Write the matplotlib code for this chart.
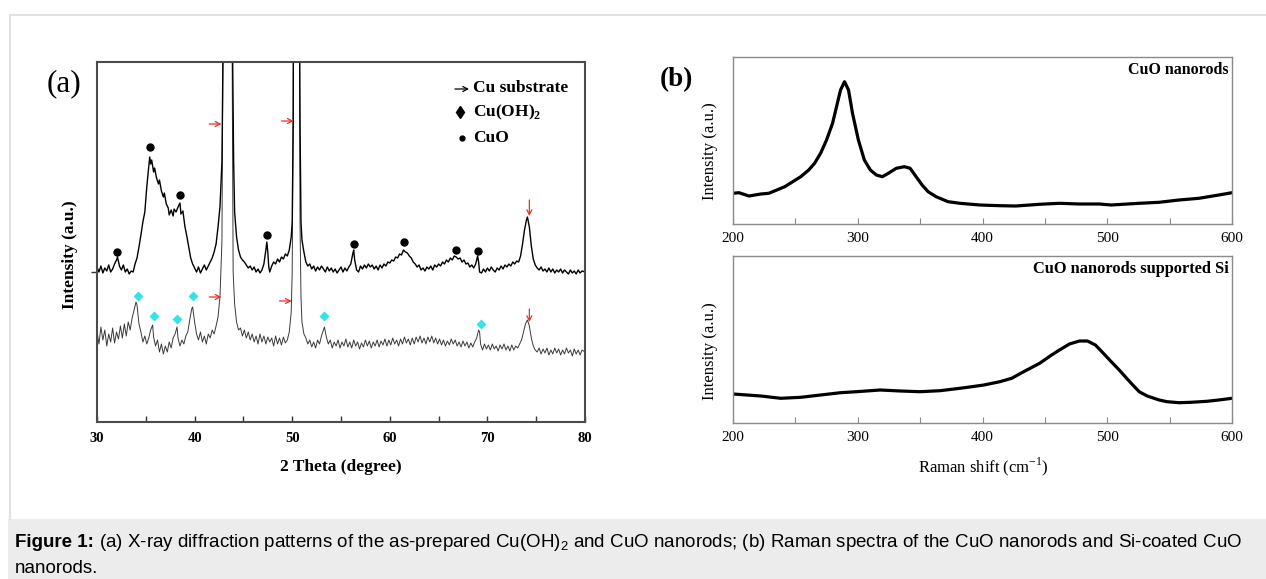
"""XRD patterns and Raman spectra of CuO nanorods (Figure 1)."""

import matplotlib
matplotlib.use('Agg')
import matplotlib.pyplot as plt
import numpy as np
from matplotlib.patches import Rectangle

plt.rcParams['font.family'] = ['Liberation Serif', 'DejaVu Serif']
plt.rcParams['mathtext.fontset'] = 'custom'
plt.rcParams['mathtext.rm'] = 'Liberation Serif'
plt.rcParams['mathtext.bf'] = 'Liberation Serif:bold'
plt.rcParams['mathtext.sf'] = 'Liberation Sans'

# ---- (a) XRD, 2theta (deg) / intensity (a.u.) ----
xrd_cuo = [
    (30.0, 155), (30.2, 150), (30.4, 156), (30.6, 149), (30.8, 154), (31.0, 151),
    (31.2, 157), (31.4, 150), (31.6, 153), (31.8, 158), (32.0, 162), (32.1, 165),
    (32.3, 156), (32.5, 152), (32.7, 157), (32.9, 150), (33.1, 153), (33.3, 148),
    (33.5, 151), (33.7, 150), (33.9, 158), (34.1, 164), (34.3, 175), (34.5, 187),
    (34.7, 200), (34.9, 210), (35.1, 235), (35.3, 255), (35.4, 265), (35.5, 258),
    (35.6, 262), (35.8, 250), (35.9, 254), (36.1, 244), (36.3, 238), (36.4, 242),
    (36.6, 231), (36.8, 225), (36.9, 229), (37.1, 218), (37.3, 214), (37.4, 207),
    (37.6, 212), (37.8, 206), (37.9, 213), (38.1, 210), (38.3, 215), (38.5, 219),
    (38.6, 208), (38.8, 211), (39.0, 196), (39.2, 186), (39.4, 175), (39.6, 164),
    (39.8, 158), (40.0, 154), (40.2, 150), (40.4, 155), (40.6, 149), (40.8, 153),
    (41.0, 157), (41.2, 152), (41.4, 156), (41.6, 160), (41.8, 164), (42.0, 170),
    (42.2, 178), (42.4, 195), (42.6, 215), (42.8, 260), (42.9, 360), (43.0, 900),
    (43.3, 1800), (43.6, 900), (43.9, 360), (44.0, 260), (44.1, 210), (44.3, 185),
    (44.5, 172), (44.7, 165), (44.9, 162), (45.1, 160), (45.3, 157), (45.5, 154),
    (45.7, 156), (45.9, 152), (46.1, 155), (46.3, 150), (46.5, 153), (46.7, 149),
    (46.9, 152), (47.1, 158), (47.3, 172), (47.4, 180), (47.5, 170), (47.6, 155),
    (47.7, 150), (47.9, 156), (48.1, 160), (48.3, 158), (48.5, 163), (48.7, 160),
    (48.9, 165), (49.1, 163), (49.3, 168), (49.5, 166), (49.7, 172), (49.9, 185),
    (50.0, 200), (50.1, 300), (50.2, 700), (50.4, 1500), (50.6, 700), (50.8, 300),
    (50.9, 200), (51.0, 182), (51.2, 170), (51.4, 160), (51.6, 156), (51.8, 158),
    (52.0, 153), (52.2, 156), (52.4, 151), (52.6, 155), (52.8, 152), (53.0, 156),
    (53.2, 153), (53.4, 150), (53.6, 155), (53.8, 151), (54.0, 154), (54.2, 150),
    (54.4, 153), (54.6, 149), (54.8, 152), (55.0, 155), (55.2, 150), (55.4, 154),
    (55.6, 151), (55.8, 155), (56.0, 158), (56.2, 168), (56.3, 172), (56.4, 162),
    (56.6, 152), (56.8, 150), (57.0, 156), (57.2, 153), (57.4, 157), (57.6, 154),
    (57.8, 158), (58.0, 155), (58.2, 157), (58.4, 153), (58.6, 156), (58.8, 152),
    (59.0, 157), (59.2, 154), (59.4, 158), (59.6, 156), (59.8, 160), (60.0, 159),
    (60.2, 162), (60.4, 161), (60.6, 165), (60.8, 164), (61.0, 168), (61.2, 167),
    (61.4, 172), (61.6, 170), (61.8, 169), (62.0, 166), (62.2, 164), (62.4, 160),
    (62.6, 158), (62.8, 155), (63.0, 157), (63.2, 152), (63.4, 154), (63.6, 151),
    (63.8, 155), (64.0, 153), (64.2, 156), (64.4, 152), (64.6, 157), (64.8, 155),
    (65.0, 158), (65.2, 156), (65.4, 160), (65.6, 158), (65.8, 162), (66.0, 160),
    (66.2, 164), (66.4, 162), (66.6, 166), (66.8, 165), (67.0, 163), (67.2, 164),
    (67.4, 160), (67.6, 162), (67.8, 158), (68.0, 159), (68.2, 155), (68.4, 157),
    (68.6, 154), (68.8, 158), (69.0, 166), (69.1, 160), (69.2, 150), (69.4, 149),
    (69.6, 153), (69.8, 150), (70.0, 154), (70.2, 151), (70.4, 155), (70.6, 152),
    (70.8, 150), (71.0, 154), (71.2, 152), (71.4, 156), (71.6, 153), (71.8, 157),
    (72.0, 155), (72.2, 158), (72.4, 156), (72.6, 160), (72.8, 158), (73.0, 161),
    (73.2, 160), (73.4, 166), (73.6, 178), (73.8, 192), (74.0, 202), (74.1, 205),
    (74.3, 195), (74.5, 176), (74.7, 163), (74.9, 157), (75.1, 154), (75.3, 152),
    (75.5, 155), (75.7, 151), (75.9, 153), (76.1, 150), (76.3, 154), (76.5, 150),
    (76.7, 153), (76.9, 149), (77.1, 152), (77.3, 150), (77.5, 153), (77.7, 149),
    (77.9, 152), (78.1, 150), (78.3, 148), (78.5, 152), (78.7, 149), (78.9, 151),
    (79.1, 148), (79.3, 152), (79.5, 149), (79.7, 151), (80.0, 150),
]

xrd_cuoh2 = [
    (30.0, 90), (30.2, 78), (30.4, 95), (30.6, 82), (30.8, 92), (31.0, 76),
    (31.2, 88), (31.4, 80), (31.6, 94), (31.8, 79), (32.0, 90), (32.2, 83),
    (32.4, 96), (32.6, 84), (32.8, 98), (33.0, 86), (33.2, 100), (33.4, 92),
    (33.6, 104), (33.8, 112), (34.0, 120), (34.1, 117), (34.3, 98), (34.5, 90),
    (34.7, 80), (34.9, 86), (35.1, 78), (35.3, 84), (35.5, 92), (35.7, 97),
    (35.8, 85), (36.0, 76), (36.2, 82), (36.4, 70), (36.6, 78), (36.8, 68),
    (37.0, 76), (37.2, 70), (37.4, 80), (37.6, 74), (37.8, 84), (38.0, 88),
    (38.2, 95), (38.3, 84), (38.5, 76), (38.7, 82), (38.9, 78), (39.1, 86),
    (39.3, 90), (39.5, 102), (39.7, 113), (39.8, 115), (40.0, 100), (40.2, 88),
    (40.4, 82), (40.6, 90), (40.8, 80), (41.0, 86), (41.2, 78), (41.4, 88),
    (41.6, 84), (41.8, 92), (42.0, 88), (42.2, 96), (42.4, 105), (42.6, 125),
    (42.8, 180), (42.9, 360), (43.2, 1500), (43.5, 1500), (43.85, 360), (43.95, 150),
    (44.1, 118), (44.3, 100), (44.5, 92), (44.7, 94), (44.9, 86), (45.1, 92),
    (45.3, 84), (45.5, 90), (45.7, 82), (45.9, 88), (46.1, 80), (46.3, 86),
    (46.5, 78), (46.7, 88), (46.9, 80), (47.1, 86), (47.3, 78), (47.5, 85),
    (47.7, 80), (47.9, 84), (48.1, 76), (48.3, 86), (48.5, 78), (48.7, 84),
    (48.9, 77), (49.1, 85), (49.3, 79), (49.5, 82), (49.7, 90), (49.9, 110),
    (50.0, 150), (50.1, 300), (50.3, 1000), (50.5, 1800), (50.7, 600), (50.8, 200),
    (50.9, 125), (51.0, 100), (51.2, 88), (51.4, 84), (51.6, 78), (51.8, 82),
    (52.0, 75), (52.2, 80), (52.4, 74), (52.6, 82), (52.8, 78), (53.0, 86),
    (53.2, 92), (53.3, 95), (53.5, 85), (53.7, 78), (53.9, 82), (54.1, 74),
    (54.3, 80), (54.5, 76), (54.7, 82), (54.9, 74), (55.1, 80), (55.3, 76),
    (55.5, 83), (55.7, 75), (55.9, 80), (56.1, 74), (56.3, 82), (56.5, 76),
    (56.7, 80), (56.9, 73), (57.1, 79), (57.3, 75), (57.5, 82), (57.7, 76),
    (57.9, 81), (58.1, 74), (58.3, 80), (58.5, 76), (58.7, 82), (58.9, 75),
    (59.1, 81), (59.3, 77), (59.5, 83), (59.7, 76), (59.9, 82), (60.1, 77),
    (60.3, 84), (60.5, 78), (60.7, 82), (60.9, 76), (61.1, 83), (61.3, 78),
    (61.5, 85), (61.7, 79), (61.9, 83), (62.1, 77), (62.3, 84), (62.5, 78),
    (62.7, 85), (62.9, 80), (63.1, 86), (63.3, 79), (63.5, 84), (63.7, 78),
    (63.9, 85), (64.1, 80), (64.3, 86), (64.5, 79), (64.7, 84), (64.9, 78),
    (65.1, 83), (65.3, 77), (65.5, 82), (65.7, 76), (65.9, 81), (66.1, 77),
    (66.3, 83), (66.5, 78), (66.7, 82), (66.9, 76), (67.1, 80), (67.3, 75),
    (67.5, 81), (67.7, 76), (67.9, 80), (68.1, 74), (68.3, 79), (68.5, 75),
    (68.7, 80), (68.9, 84), (69.1, 92), (69.2, 90), (69.3, 78), (69.5, 72),
    (69.7, 78), (69.9, 73), (70.1, 77), (70.3, 72), (70.5, 78), (70.7, 73),
    (70.9, 76), (71.1, 71), (71.3, 77), (71.5, 73), (71.7, 78), (71.9, 72),
    (72.1, 76), (72.3, 71), (72.5, 77), (72.7, 72), (72.9, 76), (73.1, 74),
    (73.3, 78), (73.5, 82), (73.7, 90), (73.9, 98), (74.1, 102), (74.3, 96),
    (74.5, 84), (74.7, 76), (74.9, 72), (75.1, 70), (75.3, 74), (75.5, 68),
    (75.7, 73), (75.9, 69), (76.1, 74), (76.3, 67), (76.5, 72), (76.7, 68),
    (76.9, 74), (77.1, 69), (77.3, 73), (77.5, 67), (77.7, 72), (77.9, 68),
    (78.1, 74), (78.3, 69), (78.5, 72), (78.7, 66), (78.9, 73), (79.1, 68),
    (79.3, 72), (79.5, 67), (79.7, 72), (80.0, 70),
]

cuo_peak_2theta = [32.1, 35.4, 38.5, 47.4, 56.3, 61.5, 66.8, 69.0]
cuo_peak_mark = [170, 275, 227, 187, 178, 180, 172, 171]
cuoh2_peak_2theta = [34.2, 35.8, 38.2, 39.8, 53.3, 69.3]
cuoh2_peak_mark = [126, 106, 103, 126, 106, 98]
# Cu substrate reflections: (arrow start, arrow end, level)
cu_side_arrows = [(41.5, 42.75, 298), (48.9, 50.15, 301), (41.5, 42.75, 125), (48.7, 49.95, 121)]
cu_down_arrows = [(74.3, 222, 206), (74.3, 113, 100)]

# ---- (b) Raman, shift (cm-1) / intensity (a.u.) ----
raman_cuo_shift = [200, 204.8, 212.8, 222.3, 228.7, 235.1, 241.5, 247.9, 254.3, 260.7,
                   265.4, 270.2, 275.0, 279.8, 283.0, 286.2, 289.4, 292.6, 295.8, 300.5,
                   305.3, 310.1, 314.9, 319.7, 324.5, 330.9, 337.3, 342.0, 346.8, 351.6,
                   356.4, 362.8, 372.4, 381.9, 397.9, 413.9, 426.6, 445.8, 461.7, 477.7,
                   493.7, 503.2, 525.6, 541.6, 557.5, 573.5, 589.4, 600]
raman_cuo_int = [30.7, 31.3, 28.0, 30.0, 30.7, 34.0, 37.3, 42.3, 47.3, 54.0,
                 60.7, 70.7, 84.0, 100.7, 117.3, 134.0, 142.3, 134.0, 110.7, 84.0,
                 64.0, 54.0, 49.0, 47.3, 50.7, 55.7, 57.3, 55.7, 47.3, 39.0,
                 32.3, 27.3, 22.3, 20.7, 19.0, 18.3, 18.0, 19.7, 20.7, 20.0,
                 20.0, 19.0, 20.7, 21.7, 24.0, 25.7, 29.0, 31.3]

raman_si_shift = [200, 222.3, 238.3, 254.3, 270.2, 286.2, 299.0, 318.1, 334.1, 350.0,
                  366.0, 381.9, 391.5, 401.1, 413.9, 423.4, 433.0, 445.8, 455.4, 461.7,
                  469.7, 477.7, 484.1, 490.5, 496.9, 503.2, 509.6, 514.4, 519.2, 525.6,
                  532.0, 541.6, 547.9, 557.5, 567.1, 579.8, 589.4, 600]
raman_si_int = [29.0, 27.0, 24.7, 25.7, 28.0, 30.3, 31.3, 33.0, 32.0, 31.3,
                32.3, 34.7, 36.3, 38.0, 41.3, 44.7, 51.3, 59.7, 68.0, 73.0,
                79.0, 82.0, 82.0, 78.0, 69.7, 61.3, 53.0, 46.3, 39.7, 31.3,
                27.0, 23.0, 21.3, 20.3, 20.7, 21.7, 23.0, 24.7]

caption_bold = 'Figure 1:'
caption_rest = (' (a) X-ray diffraction patterns of the as-prepared Cu(OH)$_\\mathsf{2}$ and CuO '
                'nanorods; (b) Raman spectra of the CuO nanorods and Si-coated CuO')
caption_line2 = 'nanorods.'

W, H = 1266, 579
fig = plt.figure(figsize=(W / 100, H / 100), dpi=100)

# background layer in pixel coordinates (frame, caption band, labels)
bg = fig.add_axes([0, 0, 1, 1], zorder=-1)
bg.set_xlim(0, W)
bg.set_ylim(H, 0)
bg.axis('off')
bg.add_patch(Rectangle((8, 519), W - 8, 60, color='#ececec', lw=0))
bg.plot([10, 10, W], [519, 15, 15], color='#e2e2e2', lw=1.5)


def px_axes(left, top, right, bottom):
    ax = fig.add_axes([left / W, 1 - bottom / H, (right - left) / W, (bottom - top) / H])
    ax.patch.set_visible(False)
    return ax


# ---------------- (a) ----------------
ax_a = px_axes(97, 62, 585, 422)
cx, cy = np.array(xrd_cuo).T
hx, hy = np.array(xrd_cuoh2).T
ax_a.plot(hx, hy, color='#3a3a3a', lw=0.7)
ax_a.plot(cx, cy, color='black', lw=1.0)
ax_a.plot(cuo_peak_2theta, cuo_peak_mark, 'o', color='black', ms=5)
ax_a.plot(cuoh2_peak_2theta, cuoh2_peak_mark, 'D', color='#33e3ea', ms=5.5, mec='none')
arrow_kw = dict(arrowstyle='->,head_length=0.35,head_width=0.18', color='#e8302a', lw=0.9,
                shrinkA=0, shrinkB=0)
for x0, x1, lev in cu_side_arrows:
    ax_a.annotate('', xy=(x1, lev), xytext=(x0, lev), arrowprops=arrow_kw)
for xv, y0, y1 in cu_down_arrows:
    ax_a.annotate('', xy=(xv, y1), xytext=(xv, y0), arrowprops=arrow_kw)

ax_a.set_xlim(30, 80)
ax_a.set_ylim(0, 360)
ax_a.set_xticks(np.arange(30, 81, 10))
ax_a.set_xticks(np.arange(35, 80, 10), minor=True)
ax_a.tick_params(axis='x', which='both', direction='in', length=4, width=1,
                 labelsize=10.5, pad=7, colors='#333333', labelcolor='black')
ax_a.set_yticks([150])
ax_a.set_yticklabels([''])
ax_a.tick_params(axis='y', direction='out', length=4, width=1, colors='#333333')
for lab in ax_a.get_xticklabels():
    lab.set_fontweight('bold')
for sp in ax_a.spines.values():
    sp.set_color('#4a4a4a')
    sp.set_linewidth(1.5)

bg.text(64, 84, '(a)', fontsize=22.5, ha='center', va='center')
bg.text(70, 255, 'Intensity (a.u.)', fontsize=12.5, weight='bold', rotation=90,
        ha='center', va='center')
bg.text(341, 467, '2 Theta (degree)', fontsize=12.5, weight='bold', ha='center', va='center')

# symbol key
bg.annotate('', xy=(469, 89), xytext=(455, 89),
            arrowprops=dict(arrowstyle='->,head_length=0.35,head_width=0.18', color='black',
                            lw=0.9, shrinkA=0, shrinkB=0))
bg.text(473, 88, 'Cu substrate', fontsize=12.5, weight='bold', va='center')
bg.plot(460, 112, 'd', color='black', ms=6)
bg.text(473, 112, 'Cu(OH)$_\\mathbf{2}$', fontsize=12.5, weight='bold', va='center')
bg.plot(462, 138, 'o', color='black', ms=3.5)
bg.text(473, 138, 'CuO', fontsize=12.5, weight='bold', va='center')

# ---------------- (b) ----------------
ax_b1 = px_axes(733, 57, 1232, 224)
ax_b2 = px_axes(733, 256, 1232, 423)
ax_b1.plot(raman_cuo_shift, raman_cuo_int, color='black', lw=2.3)
ax_b2.plot(raman_si_shift, raman_si_int, color='black', lw=2.3)
for ax in (ax_b1, ax_b2):
    ax.set_xlim(200, 600)
    ax.set_ylim(0, 167)
    ax.set_xticks(np.arange(200, 601, 100))
    ax.set_xticks(np.arange(250, 600, 100), minor=True)
    ax.set_yticks([])
    ax.tick_params(axis='x', which='both', direction='in', length=4, width=0.8,
                   labelsize=11, pad=6, colors='#888888', labelcolor='black')
    for sp in ax.spines.values():
        sp.set_color('#8a8a8a')
        sp.set_linewidth(1.0)

bg.text(676, 80, '(b)', fontsize=19.5, weight='bold', ha='center', va='center')
bg.text(1228, 70, 'CuO nanorods', fontsize=11.5, weight='bold', ha='right', va='center')
bg.text(1229, 269, 'CuO nanorods supported Si', fontsize=11.8, weight='bold',
        ha='right', va='center')
bg.text(710, 151, 'Intensity (a.u.)', fontsize=12, rotation=90, ha='center', va='center')
bg.text(710, 351, 'Intensity (a.u.)', fontsize=12, rotation=90, ha='center', va='center')
bg.text(983, 467, 'Raman shift (cm$^{-1}$)', fontsize=12, ha='center', va='center')

# ---------------- caption ----------------
cap_kw = dict(family=['Liberation Sans', 'DejaVu Sans'], fontsize=13.5, va='baseline')
tb = bg.text(15, 547, caption_bold, weight='bold', **cap_kw)
fig.canvas.draw()
x_end = bg.transData.inverted().transform(tb.get_window_extent().get_points())[1, 0]
bg.text(x_end, 547, caption_rest, **cap_kw)
bg.text(15, 573, caption_line2, **cap_kw)

fig.savefig('out.png', dpi=100)
